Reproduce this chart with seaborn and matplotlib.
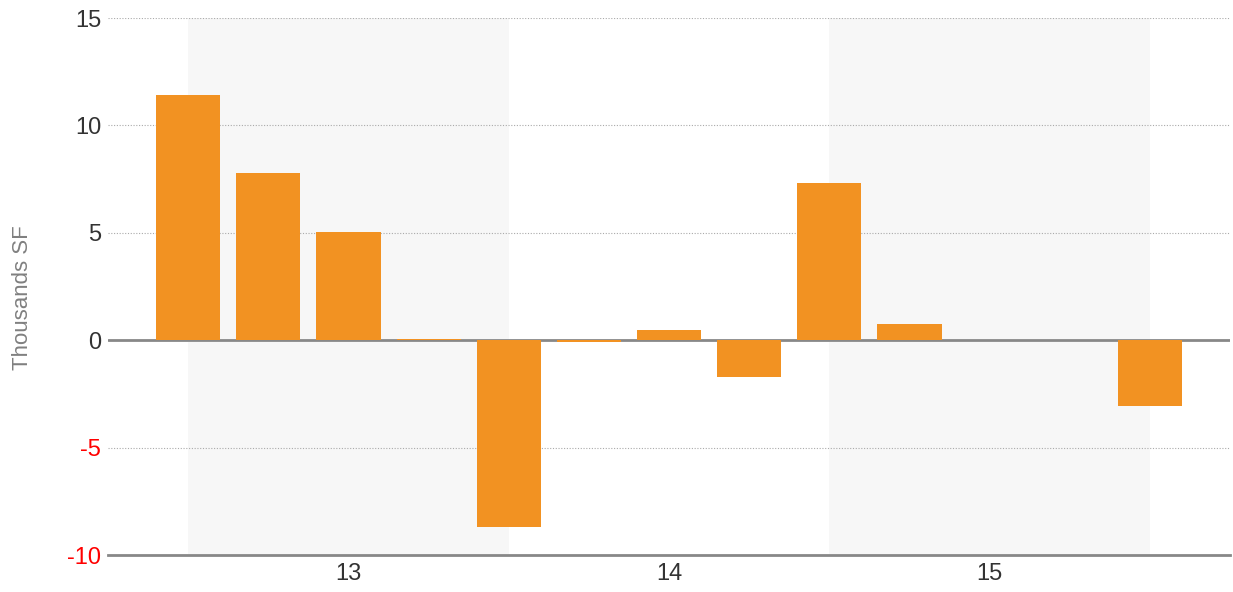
import numpy as np
import pandas as pd
import seaborn as sns
import matplotlib.pyplot as plt

# quarterly change, thousands SF
quarters = ["13 Q1", "13 Q2", "13 Q3", "13 Q4", "14 Q1", "14 Q2", "14 Q3",
            "14 Q4", "15 Q1", "15 Q2", "15 Q3", "15 Q4", "16 Q1"]
values = [11.44, 7.77, 5.02, 0.06, -8.70, -0.06, 0.47, -1.72, 7.30, 0.74, 0.0, 0.0, -3.07]
year_labels = ["13", "14", "15"]
year_ticks = [2, 6, 10]
shaded = [(0, 4), (8, 12)]
yticks = [-10, -5, 0, 5, 10, 15]

df = pd.DataFrame({"quarter": quarters, "value": values})

sns.set_style("white")
plt.rcParams["font.family"] = ["Liberation Sans", "DejaVu Sans"]

fig = plt.figure(figsize=(12.33, 5.92), dpi=100)
ax = fig.add_axes([0.0876, 0.0625, 0.91, 0.907])

for a, b in shaded:
    ax.axvspan(a, b, color="#f7f7f7", zorder=0, lw=0)

ax.axhline(0, color="#888888", lw=2, zorder=2)
sns.barplot(data=df, x="quarter", y="value", color="#f29222", saturation=1,
            width=0.8, ax=ax, zorder=3, linewidth=0)

for t in [5, 10, 15, -5]:
    ax.axhline(t, color="#aaaaaa", lw=0.8, ls=(0, (1, 1.5)), zorder=1)

ax.set_xlim(-1, 13)
ax.set_ylim(-10, 15)
ax.set_yticks(yticks)
ax.set_yticklabels([str(v) for v in yticks], fontsize=17)
for lbl, v in zip(ax.get_yticklabels(), yticks):
    lbl.set_color("#ff0000" if v < 0 else "#333333")
ax.set_xticks(year_ticks)
ax.set_xticklabels(year_labels, fontsize=17, color="#333333")
ax.tick_params(axis="both", length=0, pad=5)
ax.tick_params(axis="x", pad=6)

ax.set_xlabel("")
ax.set_ylabel("Thousands SF", fontsize=16, color="#808080", labelpad=20)
ax.yaxis.set_label_coords(-0.067, 0.48)

for s in ["top", "right", "left"]:
    ax.spines[s].set_visible(False)
ax.spines["bottom"].set_color("#888888")
ax.spines["bottom"].set_linewidth(2)
ax.spines["bottom"].set_zorder(5)

fig.savefig("out.png", dpi=100)
